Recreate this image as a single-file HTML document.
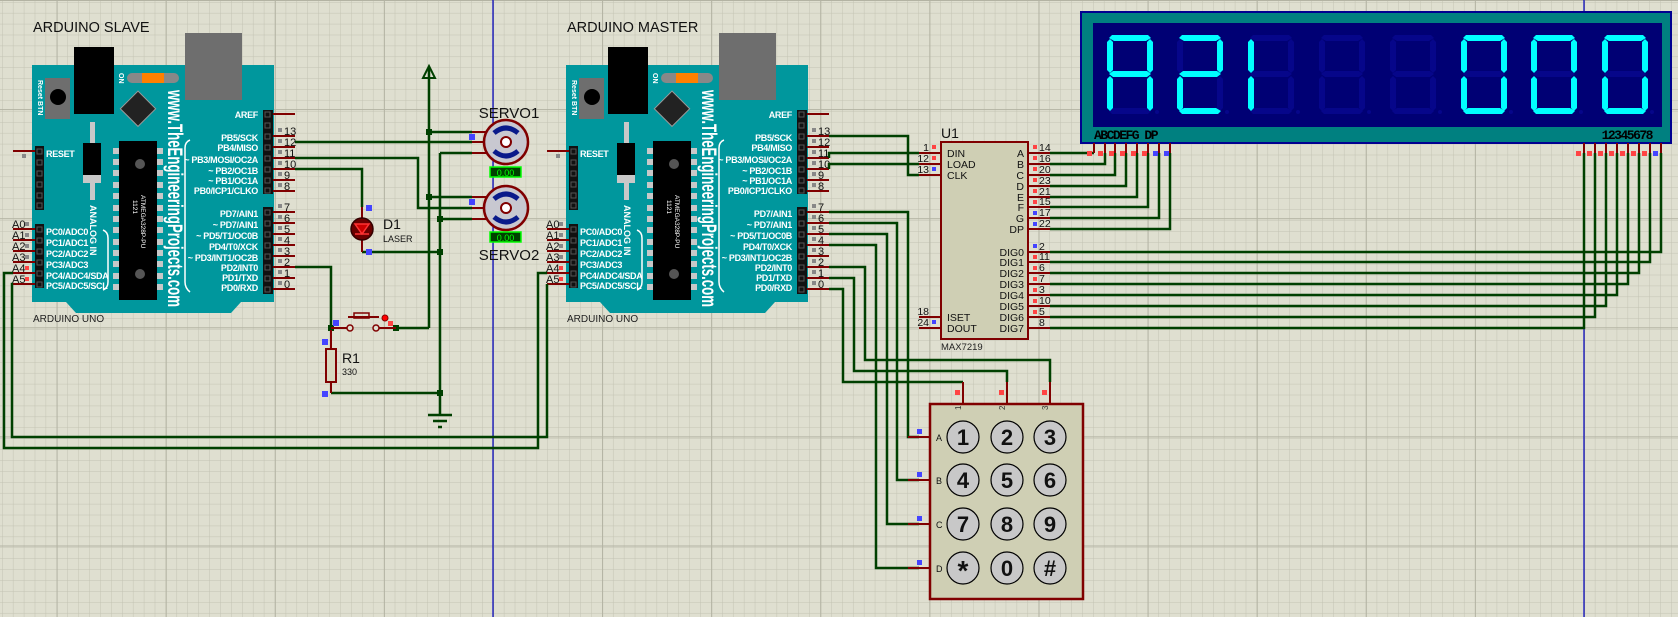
<!DOCTYPE html>
<html><head><meta charset="utf-8"><style>
html,body{margin:0;padding:0;background:#dfdfd0;}
svg{display:block;font-family:"Liberation Sans",sans-serif;}
.w{stroke:#004000;stroke-width:2.5;fill:none;}
.p{stroke:#800000;stroke-width:2;fill:none;}
.lb{fill:#fff;font-weight:bold;font-size:9px;letter-spacing:-0.3px;}
.nm{fill:#111;font-size:11px;}
.jn{fill:#004000;}
</style></head><body>
<svg width="1678" height="617" viewBox="0 0 1678 617" xmlns="http://www.w3.org/2000/svg">
<defs>
<pattern id="mn" width="10.91" height="10.91" patternUnits="userSpaceOnUse" patternTransform="translate(2,2)">
<path d="M0 0V10.91M0 0H10.91" stroke="#c3c3b3" stroke-width="1" fill="none"/></pattern>
<pattern id="mj" width="109.1" height="109.1" patternUnits="userSpaceOnUse" patternTransform="translate(56.6,0)">
<path d="M0 0V109.1M0 0H109.1" stroke="#b3b3a3" stroke-width="2" fill="none"/></pattern>
<polygon id="sa" points="5,35 41,35 44,38 39,41 7,41 2,38"/>
<polygon id="sb" points="43,39 46,42 46,70 43,73 40,70 40,42"/>
<polygon id="sc" points="43,76 46,79 46,108 43,111 40,108 40,79"/>
<polygon id="sd" points="2,111 7,108 39,108 44,111 41,114 5,114"/>
<polygon id="se" points="3,76 6,79 6,108 3,111 0,108 0,79"/>
<polygon id="sf" points="3,39 6,42 6,70 3,73 0,70 0,42"/>
<polygon id="sg" points="2,74 6,71 40,71 44,74 40,77 6,77"/>

<g id="ard">
<path d="M566,65H808V302H775L765,313H610L600,302H566Z" fill="#00979d"/>
<rect x="608" y="47" width="40" height="67" fill="#000"/>
<rect x="719" y="33" width="57" height="67" fill="#6e6e6e"/>
<rect x="579" y="78" width="25" height="41" fill="#6e6e6e"/>
<circle cx="592" cy="97" r="8" fill="#000"/>
<text transform="translate(572,80) rotate(90)" fill="#fff" font-size="7" font-weight="bold">Reset BTN</text>
<text transform="translate(653,73) rotate(90)" fill="#fff" font-size="7" font-weight="bold">ON</text>
<rect x="661" y="73" width="52" height="10" rx="5" fill="#888"/>
<rect x="676" y="73" width="22" height="10" fill="#ff8000"/>
<rect x="660" y="96" width="25" height="25" fill="#222" stroke="#999" stroke-width="1" transform="rotate(45 672 108)"/>
<rect x="624" y="122" width="5" height="78" fill="#c8c8c8"/>
<rect x="617" y="143" width="18" height="32" fill="#000"/>
<rect x="617" y="175" width="18" height="8" fill="#c8c8c8"/>
<text transform="translate(624,205) rotate(90)" fill="#fff" font-size="9" font-weight="bold">ANALOG IN</text>
<rect x="653" y="141" width="38" height="159" fill="#000"/>
<g fill="#c8c8c8">
<rect x="647" y="148" width="6" height="6"/><rect x="647" y="159" width="6" height="6"/><rect x="647" y="170" width="6" height="6"/><rect x="647" y="182" width="6" height="6"/><rect x="647" y="193" width="6" height="6"/><rect x="647" y="205" width="6" height="6"/><rect x="647" y="216" width="6" height="6"/><rect x="647" y="227" width="6" height="6"/><rect x="647" y="239" width="6" height="6"/><rect x="647" y="250" width="6" height="6"/><rect x="647" y="261" width="6" height="6"/><rect x="647" y="273" width="6" height="6"/><rect x="647" y="284" width="6" height="6"/>
<rect x="691" y="148" width="6" height="6"/><rect x="691" y="159" width="6" height="6"/><rect x="691" y="170" width="6" height="6"/><rect x="691" y="182" width="6" height="6"/><rect x="691" y="193" width="6" height="6"/><rect x="691" y="205" width="6" height="6"/><rect x="691" y="216" width="6" height="6"/><rect x="691" y="227" width="6" height="6"/><rect x="691" y="239" width="6" height="6"/><rect x="691" y="250" width="6" height="6"/><rect x="691" y="261" width="6" height="6"/><rect x="691" y="273" width="6" height="6"/><rect x="691" y="284" width="6" height="6"/>
</g>
<circle cx="674" cy="164" r="5" fill="#555"/><circle cx="674" cy="274" r="5" fill="#555"/>
<text transform="translate(667,200) rotate(90)" fill="#fff" font-size="6.5">1121</text>
<text transform="translate(675,195) rotate(90)" fill="#fff" font-size="6.5">ATMEGA328P-PU</text>
<text transform="translate(702,90) rotate(90)" fill="#fff" font-size="21" font-weight="bold" textLength="217" lengthAdjust="spacingAndGlyphs">www.TheEngineeringProjects.com</text>
<path d="M724,140Q719,142 719,148V282Q719,288 724,292" stroke="#fff" stroke-width="1.5" fill="none"/>
<path d="M637,230Q642,232 642,238V282Q642,288 637,290" stroke="#fff" stroke-width="1.5" fill="none"/>
<rect x="797" y="110" width="10" height="84" fill="#111"/>
<rect x="797" y="207" width="10" height="87" fill="#111"/>
<rect x="569" y="146" width="9" height="64" fill="#111"/>
<rect x="569" y="224" width="9" height="64" fill="#111"/>
<g fill="none" stroke="#555" stroke-width="1">
<rect x="799" y="112" width="5" height="5"/><rect x="799" y="123" width="5" height="5"/><rect x="799" y="134" width="5" height="5"/><rect x="799" y="145" width="5" height="5"/><rect x="799" y="156" width="5" height="5"/><rect x="799" y="167" width="5" height="5"/><rect x="799" y="178" width="5" height="5"/><rect x="799" y="188" width="5" height="5"/>
<rect x="799" y="210" width="5" height="5"/><rect x="799" y="221" width="5" height="5"/><rect x="799" y="232" width="5" height="5"/><rect x="799" y="243" width="5" height="5"/><rect x="799" y="254" width="5" height="5"/><rect x="799" y="265" width="5" height="5"/><rect x="799" y="276" width="5" height="5"/><rect x="799" y="287" width="5" height="5"/>
<rect x="571" y="149" width="5" height="5"/><rect x="571" y="160" width="5" height="5"/><rect x="571" y="171" width="5" height="5"/><rect x="571" y="182" width="5" height="5"/><rect x="571" y="193" width="5" height="5"/><rect x="571" y="203" width="5" height="5"/>
<rect x="571" y="227" width="5" height="5"/><rect x="571" y="238" width="5" height="5"/><rect x="571" y="249" width="5" height="5"/><rect x="571" y="260" width="5" height="5"/><rect x="571" y="271" width="5" height="5"/><rect x="571" y="282" width="5" height="5"/>
</g>
<path class="p" d="M807,114H829M807,136H829M807,147H829M807,158H829M807,169H829M807,180H829M807,191H829M807,212H829M807,223H829M807,234H829M807,245H829M807,256H829M807,267H829M807,278H829M807,289H829M547,151H569M547,229H569M547,240H569M547,251H569M547,262H569M547,273H569M547,284H569"/>
<g class="lb" text-anchor="end">
<text x="792" y="118">AREF</text><text x="792" y="141">PB5/SCK</text><text x="792" y="151">PB4/MISO</text><text x="792" y="163">~ PB3/MOSI/OC2A</text><text x="792" y="174">~ PB2/OC1B</text><text x="792" y="184">~ PB1/OC1A</text><text x="792" y="194">PB0/ICP1/CLKO</text>
<text x="792" y="217">PD7/AIN1</text><text x="792" y="228">~ PD7/AIN1</text><text x="792" y="239">~ PD5/T1/OC0B</text><text x="792" y="250">PD4/T0/XCK</text><text x="792" y="261">~ PD3/INT1/OC2B</text><text x="792" y="271">PD2/INT0</text><text x="792" y="281">PD1/TXD</text><text x="792" y="291">PD0/RXD</text>
</g>
<g class="lb"><text x="580" y="157">RESET</text><text x="580" y="235">PC0/ADC0</text><text x="580" y="246">PC1/ADC1</text><text x="580" y="257">PC2/ADC2</text><text x="580" y="268">PC3/ADC3</text><text x="580" y="279">PC4/ADC4/SDA</text><text x="580" y="289">PC5/ADC5/SCL</text></g>
<g class="nm"><text x="818" y="135">13</text><text x="818" y="146">12</text><text x="818" y="157">11</text><text x="818" y="168">10</text><text x="818" y="179">9</text><text x="818" y="190">8</text><text x="818" y="211">7</text><text x="818" y="222">6</text><text x="818" y="233">5</text><text x="818" y="244">4</text><text x="818" y="255">3</text><text x="818" y="266">2</text><text x="818" y="277">1</text><text x="818" y="288">0</text>
<text x="546" y="228">A0</text><text x="546" y="239">A1</text><text x="546" y="250">A2</text><text x="546" y="261">A3</text><text x="546" y="272">A4</text><text x="546" y="283">A5</text></g>
<g fill="#888"><rect x="812" y="128" width="4" height="4"/><rect x="812" y="139" width="4" height="4"/><rect x="812" y="150" width="4" height="4"/><rect x="812" y="161" width="4" height="4"/><rect x="812" y="172" width="4" height="4"/><rect x="812" y="183" width="4" height="4"/><rect x="812" y="204" width="4" height="4"/><rect x="812" y="215" width="4" height="4"/><rect x="812" y="226" width="4" height="4"/><rect x="812" y="237" width="4" height="4"/><rect x="812" y="248" width="4" height="4"/><rect x="812" y="259" width="4" height="4"/><rect x="812" y="270" width="4" height="4"/><rect x="812" y="281" width="4" height="4"/>
<rect x="559" y="222" width="4" height="4"/><rect x="559" y="233" width="4" height="4"/><rect x="559" y="244" width="4" height="4"/><rect x="559" y="255" width="4" height="4"/><rect x="556" y="154" width="4" height="4"/></g>
<g fill="#f44"><rect x="559" y="266" width="4" height="4"/><rect x="559" y="277" width="4" height="4"/></g>
<text x="567" y="322" fill="#222" font-size="10">ARDUINO UNO</text>
</g>
</defs>

<rect width="1678" height="617" fill="#dfdfd0"/>
<rect width="1678" height="617" fill="url(#mn)"/>
<rect width="1678" height="617" fill="url(#mj)"/>
<path d="M493,0V617M1584,0V617" stroke="#0000c0" stroke-width="1.2"/>

<use href="#ard" transform="translate(-534,0)"/>
<use href="#ard"/>
<text x="33" y="32" font-size="14.5" fill="#111">ARDUINO SLAVE</text>
<text x="567" y="32" font-size="14.5" fill="#111">ARDUINO MASTER</text>

<path class="w" d="M295,142H472M295,158H418V208H472M295,169H362V207M362,252H440M440,153V415M440,153H472M440,219H472M429,68V328M429,132H472M429,197H472M295,267H331V328M396,328H429M331,393H440"/>
<path class="w" d="M13,273H4V448H538V273H547M13,284H12V437H547V284"/>
<g class="jn"><rect x="426" y="129" width="6" height="6"/><rect x="426" y="194" width="6" height="6"/><rect x="437" y="216" width="6" height="6"/><rect x="437" y="249" width="6" height="6"/><rect x="437" y="390" width="6" height="6"/><rect x="328" y="325" width="6" height="6"/><rect x="393" y="325" width="6" height="6"/></g>
<path d="M423,78L429,66L435,78Z" fill="none" stroke="#004000" stroke-width="2"/>
<path d="M428,415H452M433,421H447M438,427H442" stroke="#004000" stroke-width="2.5"/>
<g>
<path class="p" d="M472,132H486M472,142H484M472,153H486M472,197H486M472,208H484M472,219H486"/>
<circle cx="506" cy="142" r="22" fill="#c8c8d0" stroke="#800000" stroke-width="2.5"/>
<circle cx="506" cy="208" r="22" fill="#c8c8d0" stroke="#800000" stroke-width="2.5"/>
<g fill="none" stroke="#0a1a8a" stroke-width="5">
<path d="M494,133Q506,123 518,133"/><path d="M494,151Q506,161 518,151"/>
<path d="M494,199Q506,189 518,199"/><path d="M494,217Q506,227 518,217"/></g>
<circle cx="506" cy="142" r="5" fill="#fff" stroke="#800000" stroke-width="2"/>
<circle cx="506" cy="208" r="5" fill="#fff" stroke="#800000" stroke-width="2"/>
<rect x="490" y="167" width="31" height="10" fill="#004000" stroke="#0f0" stroke-width="1.5"/>
<rect x="490" y="232" width="31" height="10" fill="#004000" stroke="#0f0" stroke-width="1.5"/>
<text x="505.5" y="176" fill="#0f0" font-size="9" text-anchor="middle">0.00</text>
<text x="505.5" y="241" fill="#0f0" font-size="9" text-anchor="middle">0.00</text>
<text x="509" y="118" font-size="15" fill="#111" text-anchor="middle">SERVO1</text>
<text x="509" y="260" font-size="15" fill="#111" text-anchor="middle">SERVO2</text>
<rect x="469" y="134" width="6" height="6" fill="#44f"/><rect x="469" y="199" width="6" height="6" fill="#44f"/>
</g>
<path class="p" d="M362,207V219M362,240V252"/>
<circle cx="362" cy="229" r="11" fill="#6a0000" stroke="#300" stroke-width="1.5"/>
<path d="M355,224H369L362,234ZM355,234H369" fill="#c00" stroke="#f33" stroke-width="1.5"/>
<rect x="366" y="205" width="6" height="6" fill="#44f"/><rect x="366" y="249" width="6" height="6" fill="#44f"/>
<text x="383" y="229" font-size="14" fill="#111">D1</text>
<text x="383" y="242" font-size="9" fill="#111">LASER</text>
<path class="p" d="M331,328H347M379,328H396M348,317H379"/>
<rect x="354" y="313" width="15" height="5" fill="none" stroke="#800000" stroke-width="1.5"/>
<circle cx="350" cy="328" r="3" fill="#dfdfd0" stroke="#800000" stroke-width="1.5"/>
<circle cx="376" cy="328" r="3" fill="#dfdfd0" stroke="#800000" stroke-width="1.5"/>
<circle cx="385" cy="318" r="3" fill="#f00" stroke="#800" stroke-width="1"/>
<rect x="333" y="320" width="6" height="6" fill="#44f"/>
<rect x="388" y="321" width="5" height="5" fill="#f44"/>
<path class="p" d="M331,330V349M331,382V393"/>
<rect x="326" y="349" width="10" height="33" fill="#d8d8c0" stroke="#800000" stroke-width="2"/>
<rect x="322" y="339" width="6" height="6" fill="#44f"/><rect x="322" y="391" width="6" height="6" fill="#44f"/>
<text x="342" y="363" font-size="14" fill="#111">R1</text>
<text x="342" y="375" font-size="9" fill="#111">330</text>

<path class="w" d="M829,136H908V175H919M829,158V153H919M829,169V164H919"/>
<path class="w" d="M829,212H908V437H919M829,223H897V480H919M829,234H887V524H919M829,245H876V568H919M829,267H865V360H1050V382M829,278H854V371H1007V382M829,289H843V382H963"/>
<rect x="941" y="142" width="87" height="197" fill="#cfcfb4" stroke="#800000" stroke-width="2"/>
<text x="941" y="138" font-size="14" fill="#111">U1</text>
<text x="941" y="350" font-size="9.5" fill="#222">MAX7219</text>
<path class="p" d="M919,153H941M919,164H941M919,175H941M919,317H941M919,328H941M1028,153H1050M1028,164H1050M1028,175H1050M1028,186H1050M1028,197H1050M1028,207H1050M1028,218H1050M1028,229H1050M1028,252H1050M1028,262H1050M1028,273H1050M1028,284H1050M1028,295H1050M1028,306H1050M1028,317H1050M1028,328H1050"/>
<g font-size="10.5" fill="#111"><text x="947" y="157">DIN</text><text x="947" y="168">LOAD</text><text x="947" y="179">CLK</text><text x="947" y="321">ISET</text><text x="947" y="332">DOUT</text></g>
<g font-size="10.5" fill="#111" text-anchor="end"><text x="1024" y="157">A</text><text x="1024" y="168">B</text><text x="1024" y="179">C</text><text x="1024" y="190">D</text><text x="1024" y="201">E</text><text x="1024" y="211">F</text><text x="1024" y="222">G</text><text x="1024" y="233">DP</text>
<text x="1024" y="256">DIG0</text><text x="1024" y="266">DIG1</text><text x="1024" y="277">DIG2</text><text x="1024" y="288">DIG3</text><text x="1024" y="299">DIG4</text><text x="1024" y="310">DIG5</text><text x="1024" y="321">DIG6</text><text x="1024" y="332">DIG7</text>
<text x="929" y="151">1</text><text x="929" y="162">12</text><text x="929" y="173">13</text><text x="929" y="315">18</text><text x="929" y="326">24</text></g>
<g font-size="10.5" fill="#111"><text x="1039" y="151">14</text><text x="1039" y="162">16</text><text x="1039" y="173">20</text><text x="1039" y="184">23</text><text x="1039" y="195">21</text><text x="1039" y="205">15</text><text x="1039" y="216">17</text><text x="1039" y="227">22</text>
<text x="1039" y="250">2</text><text x="1039" y="260">11</text><text x="1039" y="271">6</text><text x="1039" y="282">7</text><text x="1039" y="293">3</text><text x="1039" y="304">10</text><text x="1039" y="315">5</text><text x="1039" y="326">8</text></g>
<g fill="#f44"><rect x="932" y="145" width="4" height="4"/><rect x="932" y="156" width="4" height="4"/><rect x="1033" y="145" width="4" height="4"/><rect x="1033" y="156" width="4" height="4"/><rect x="1033" y="167" width="4" height="4"/><rect x="1033" y="178" width="4" height="4"/><rect x="1033" y="189" width="4" height="4"/><rect x="1033" y="200" width="4" height="4"/><rect x="1033" y="255" width="4" height="4"/><rect x="1033" y="266" width="4" height="4"/><rect x="1033" y="277" width="4" height="4"/><rect x="1033" y="288" width="4" height="4"/><rect x="1033" y="299" width="4" height="4"/><rect x="1033" y="310" width="4" height="4"/></g>
<g fill="#44f"><rect x="932" y="167" width="4" height="4"/><rect x="932" y="320" width="4" height="4"/><rect x="1033" y="211" width="4" height="4"/><rect x="1033" y="222" width="4" height="4"/><rect x="1033" y="244" width="4" height="4"/></g>

<path class="w" d="M1050,153H1094M1050,164H1105V153M1050,175H1115V153M1050,186H1126V153M1050,197H1137V153M1050,207H1148V153M1050,218H1159V153M1050,229H1170V153"/>
<path class="w" d="M1050,252H1661V153M1050,262H1650V153M1050,273H1639V153M1050,284H1628V153M1050,295H1617V153M1050,306H1606V153M1050,317H1595V153M1050,328H1584V153"/>

<rect x="1081" y="12" width="590" height="131" fill="#008080" stroke="#000090" stroke-width="2"/>
<rect x="1093" y="23" width="569" height="104" fill="#000074"/>
<path class="p" d="M1094,143V153M1105,143V153M1115,143V153M1126,143V153M1137,143V153M1148,143V153M1159,143V153M1170,143V153M1584,143V153M1595,143V153M1606,143V153M1617,143V153M1628,143V153M1639,143V153M1650,143V153M1661,143V153"/>
<g fill="#f44"><rect x="1087" y="151" width="5" height="5"/><rect x="1098" y="151" width="5" height="5"/><rect x="1109" y="151" width="5" height="5"/><rect x="1120" y="151" width="5" height="5"/><rect x="1131" y="151" width="5" height="5"/><rect x="1142" y="151" width="5" height="5"/>
<rect x="1576" y="151" width="5" height="5"/><rect x="1587" y="151" width="5" height="5"/><rect x="1598" y="151" width="5" height="5"/><rect x="1609" y="151" width="5" height="5"/><rect x="1620" y="151" width="5" height="5"/><rect x="1631" y="151" width="5" height="5"/><rect x="1642" y="151" width="5" height="5"/></g>
<g fill="#44f"><rect x="1153" y="151" width="5" height="5"/><rect x="1164" y="151" width="5" height="5"/><rect x="1653" y="151" width="5" height="5"/></g>
<text x="1094" y="139" font-size="13" font-weight="bold" fill="#000" font-family="Liberation Mono,monospace" letter-spacing="-1.5">ABCDEFG DP</text>
<text x="1652" y="139" font-size="13" font-weight="bold" fill="#000" font-family="Liberation Mono,monospace" letter-spacing="-1.5" text-anchor="end">12345678</text>
<g fill="#06068a">
<g transform="translate(1107,0)"><use href="#sd"/><circle cx="50" cy="112" r="2"/></g>
<g transform="translate(1177,0)"><use href="#sc"/><use href="#sf"/><circle cx="50" cy="112" r="2"/></g>
<g transform="translate(1248,0)"><use href="#sa"/><use href="#sb"/><use href="#sc"/><use href="#sd"/><use href="#sg"/><circle cx="50" cy="112" r="2"/></g>
<g transform="translate(1319,0)"><use href="#sa"/><use href="#sb"/><use href="#sc"/><use href="#sd"/><use href="#se"/><use href="#sf"/><use href="#sg"/><circle cx="50" cy="112" r="2"/></g>
<g transform="translate(1390,0)"><use href="#sa"/><use href="#sb"/><use href="#sc"/><use href="#sd"/><use href="#se"/><use href="#sf"/><use href="#sg"/><circle cx="50" cy="112" r="2"/></g>
<g transform="translate(1461,0)"><use href="#sg"/><circle cx="50" cy="112" r="2"/></g>
<g transform="translate(1531,0)"><use href="#sg"/><circle cx="50" cy="112" r="2"/></g>
<g transform="translate(1602,0)"><use href="#sg"/><circle cx="50" cy="112" r="2"/></g>
</g>
<g fill="#00ffff">
<g transform="translate(1107,0)"><use href="#sa"/><use href="#sb"/><use href="#sc"/><use href="#se"/><use href="#sf"/><use href="#sg"/></g>
<g transform="translate(1177,0)"><use href="#sa"/><use href="#sb"/><use href="#sg"/><use href="#se"/><use href="#sd"/></g>
<g transform="translate(1248,0)"><use href="#se"/><use href="#sf"/></g>
<g transform="translate(1461,0)"><use href="#sa"/><use href="#sb"/><use href="#sc"/><use href="#sd"/><use href="#se"/><use href="#sf"/></g>
<g transform="translate(1531,0)"><use href="#sa"/><use href="#sb"/><use href="#sc"/><use href="#sd"/><use href="#se"/><use href="#sf"/></g>
<g transform="translate(1602,0)"><use href="#sa"/><use href="#sb"/><use href="#sc"/><use href="#sd"/><use href="#se"/><use href="#sf"/></g>
</g>

<path class="p" d="M963,382V404M1007,382V404M1050,382V404M908,437H930M908,480H930M908,524H930M908,568H930"/>
<rect x="930" y="404" width="153" height="195" fill="#cfcfb4" stroke="#800000" stroke-width="2.5"/>
<g fill="#f44"><rect x="955" y="390" width="5" height="5"/><rect x="999" y="390" width="5" height="5"/><rect x="1042" y="390" width="5" height="5"/></g>
<g fill="#44f"><rect x="917" y="429" width="5" height="5"/><rect x="917" y="472" width="5" height="5"/><rect x="917" y="516" width="5" height="5"/><rect x="917" y="560" width="5" height="5"/></g>
<g font-size="8" fill="#333"><text transform="translate(961,410) rotate(-90)">1</text><text transform="translate(1005,410) rotate(-90)">2</text><text transform="translate(1048,410) rotate(-90)">3</text></g>
<g font-size="9" fill="#111"><text x="936" y="441">A</text><text x="936" y="484">B</text><text x="936" y="528">C</text><text x="936" y="572">D</text></g>
<g fill="#c8c8c8" stroke="#000" stroke-width="1.2">
<circle cx="963" cy="437" r="16"/><circle cx="1007" cy="437" r="16"/><circle cx="1050" cy="437" r="16"/>
<circle cx="963" cy="480" r="16"/><circle cx="1007" cy="480" r="16"/><circle cx="1050" cy="480" r="16"/>
<circle cx="963" cy="524" r="16"/><circle cx="1007" cy="524" r="16"/><circle cx="1050" cy="524" r="16"/>
<circle cx="963" cy="568" r="16"/><circle cx="1007" cy="568" r="16"/><circle cx="1050" cy="568" r="16"/></g>
<g font-size="22" font-weight="bold" fill="#111" text-anchor="middle">
<text x="963" y="445">1</text><text x="1007" y="445">2</text><text x="1050" y="445">3</text>
<text x="963" y="488">4</text><text x="1007" y="488">5</text><text x="1050" y="488">6</text>
<text x="963" y="532">7</text><text x="1007" y="532">8</text><text x="1050" y="532">9</text>
<text x="963" y="580" font-size="28">*</text><text x="1007" y="576">0</text><text x="1050" y="576">#</text></g>
</svg>
</body></html>
